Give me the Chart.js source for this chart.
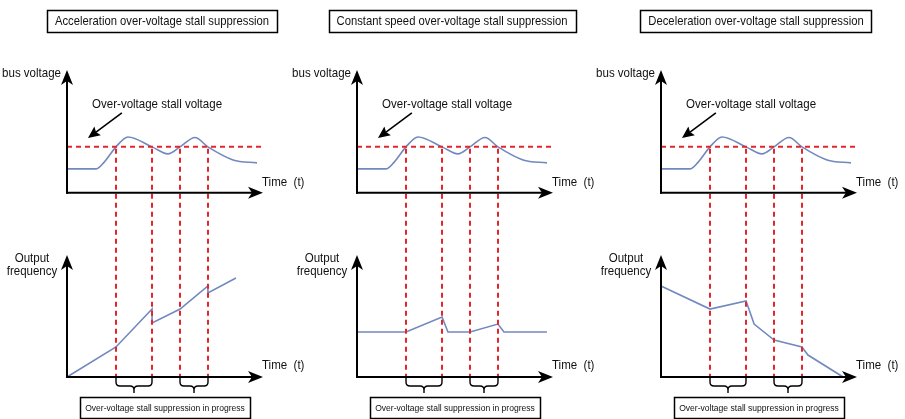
<!DOCTYPE html>
<html>
<head>
<meta charset="utf-8">
<script src="https://cdn.jsdelivr.net/npm/chart.js@4/dist/chart.umd.min.js"></script>
<style>
html,body{margin:0;padding:0;background:#fff;}
#wrap{position:relative;width:905px;height:419px;overflow:hidden;}
#wrap canvas{position:absolute;left:0;top:0;}
</style>
</head>
<body>
<div id="wrap">
<canvas id="c0" width="905" height="419"></canvas>
<canvas id="c1" width="905" height="419"></canvas>
<canvas id="c2" width="905" height="419"></canvas>
</div>
<script>
// ---------- data (arbitrary units) ----------
const panelTitles = [
  "Acceleration over-voltage stall suppression",
  "Constant speed over-voltage stall suppression",
  "Deceleration over-voltage stall suppression"
];
const boxLabel = "Over-voltage stall suppression in progress";
const stallLabel = "Over-voltage stall voltage";
const yLabelTop = "bus voltage";
const yLabelBottom = ["Output", "frequency"];
const xLabel = "Time\u00a0\u00a0(t)";

const busVoltageTime = [0, 1.5, 1.9, 2.5, 3.11, 4.34, 5.15, 5.77, 6.53, 7.19, 8.47, 9.69];
const busVoltage     = [1.95, 1.95, 2.5, 3.74, 4.55, 3.74, 3.17, 3.74, 4.5, 3.74, 2.68, 2.44];
const stallVoltage = 3.74;
const suppressionStart = [2.5, 5.77];
const suppressionEnd   = [4.34, 7.19];

const accelTime = [0, 2.5, 4.34, 4.34, 5.77, 7.19, 7.19, 8.62];
const accelFreq = [0, 2.46, 5.57, 4.43, 5.57, 7.46, 6.89, 8.11];
const constTime = [0, 2.5, 4.34, 4.64, 5.77, 7.19, 7.5, 9.69];
const constFreq = [3.69, 3.69, 4.92, 3.69, 3.69, 4.34, 3.69, 3.69];
const decelTime = [0, 2.5, 4.34, 4.75, 5.77, 7.19, 7.5, 9.29];
const decelFreq = [7.46, 5.57, 6.23, 4.34, 3.03, 2.46, 1.80, 0];

const freqTimes = [accelTime, constTime, decelTime];
const freqValues = [accelFreq, constFreq, decelFreq];

// ---------- layout / style ----------
const axisLeft = [67, 357, 661];
const plotWidth = 196;
const BLUE = '#7189bf';
const RED = '#e3262c';
const FONT = '"Liberation Sans", Arial, sans-serif';

function zip(xs, ys) { return xs.map((x, i) => ({x: x, y: ys[i]})); }

function text(ctx, s, x, y, size, align, squeeze) {
  ctx.font = size + 'px ' + FONT;
  ctx.textAlign = align;
  ctx.textBaseline = 'middle';
  ctx.fillStyle = '#111';
  const w = ctx.measureText(s).width * (squeeze || 0.92);
  ctx.fillText(s, x, y, w);
  return w;
}

function arrow(ctx, x1, y1, x2, y2, len, half, notch, lw) {
  const dx = x2 - x1, dy = y2 - y1, d = Math.hypot(dx, dy);
  const ux = dx / d, uy = dy / d, nx = -uy, ny = ux;
  ctx.lineWidth = lw;
  ctx.strokeStyle = '#000';
  ctx.fillStyle = '#000';
  ctx.setLineDash([]);
  ctx.beginPath();
  ctx.moveTo(x1, y1);
  ctx.lineTo(x2 - ux * (len - notch), y2 - uy * (len - notch));
  ctx.stroke();
  ctx.beginPath();
  ctx.moveTo(x2, y2);
  ctx.lineTo(x2 - ux * len + nx * half, y2 - uy * len + ny * half);
  ctx.lineTo(x2 - ux * (len - notch), y2 - uy * (len - notch));
  ctx.lineTo(x2 - ux * len - nx * half, y2 - uy * len - ny * half);
  ctx.closePath();
  ctx.fill();
}

function brace(ctx, xa, xb, y0) {
  const xm = (xa + xb) / 2, r = 4;
  ctx.strokeStyle = '#000';
  ctx.lineWidth = 1.4;
  ctx.setLineDash([]);
  ctx.beginPath();
  ctx.moveTo(xa, y0);
  ctx.lineTo(xa, y0 + 5);
  ctx.quadraticCurveTo(xa, y0 + 9, xa + r, y0 + 9);
  ctx.lineTo(xm - r, y0 + 9);
  ctx.quadraticCurveTo(xm, y0 + 9, xm, y0 + 13);
  ctx.lineTo(xm, y0 + 16);
  ctx.moveTo(xm, y0 + 13);
  ctx.quadraticCurveTo(xm, y0 + 9, xm + r, y0 + 9);
  ctx.lineTo(xb - r, y0 + 9);
  ctx.quadraticCurveTo(xb, y0 + 9, xb, y0 + 5);
  ctx.lineTo(xb, y0);
  ctx.stroke();
}

const diagramPlugin = {
  id: 'diagram',
  afterDraw(chart) {
    const col = chart.options.plugins.diagram.col;
    const {ctx} = chart;
    const {x, yV, yF} = chart.scales;
    const ax = x.getPixelForValue(0), tip = x.getPixelForValue(10);
    const v0 = yV.getPixelForValue(0), vTop = yV.getPixelForValue(10);
    const f0 = yF.getPixelForValue(0), fTop = yF.getPixelForValue(10);
    const th = yV.getPixelForValue(stallVoltage);
    ctx.save();

    // vertical dashed guide lines
    ctx.strokeStyle = RED;
    ctx.lineWidth = 2;
    ctx.setLineDash([5, 4]);
    suppressionStart.concat(suppressionEnd).forEach(t => {
      const px = Math.round(x.getPixelForValue(t));
      ctx.beginPath();
      ctx.moveTo(px, th + 2);
      ctx.lineTo(px, f0);
      ctx.stroke();
    });

    // axes
    arrow(ctx, ax, v0 + 1, ax, vTop, 15, 6, 4, 2);
    arrow(ctx, ax - 1, v0, tip, v0, 15, 6, 4, 2);
    arrow(ctx, ax, f0 + 1, ax, fTop, 15, 6, 4, 2);
    arrow(ctx, ax - 1, f0, tip, f0, 15, 6, 4, 2);

    // braces
    for (let i = 0; i < suppressionStart.length; i++) {
      brace(ctx, Math.round(x.getPixelForValue(suppressionStart[i])), Math.round(x.getPixelForValue(suppressionEnd[i])), f0);
    }

    // annotation arrow
    arrow(ctx, x.getPixelForValue(2.8), yV.getPixelForValue(6.5),
               x.getPixelForValue(1.07), yV.getPixelForValue(4.46), 12, 5.5, 2, 1.6);

    // texts
    text(ctx, stallLabel, x.getPixelForValue(1.28), yV.getPixelForValue(7.23), 12.8, 'left', 0.9);
    text(ctx, yLabelTop, ax - 6, vTop + 3, 12.8, 'right', 0.9);
    text(ctx, xLabel, tip - 1, v0 - 10, 12.8, 'left', 0.9);
    text(ctx, xLabel, tip - 1, f0 - 12, 12.8, 'left', 0.9);
    text(ctx, yLabelBottom[0], ax - 35, fTop + 3, 12.8, 'center', 0.9);
    text(ctx, yLabelBottom[1], ax - 35, fTop + 16, 12.8, 'center', 0.9);

    // title box
    const cx = ax + 95;
    const tw = text(ctx, panelTitles[col], cx, 21.5, 12.8, 'center', 0.88);
    ctx.strokeStyle = '#000';
    ctx.lineWidth = 1.5;
    ctx.setLineDash([]);
    ctx.strokeRect(Math.round(cx - tw / 2 - 8) + 0.5, 10.5, Math.round(tw + 16), 22);

    // bottom box
    const bx = ax + 98;
    text(ctx, boxLabel, bx, 408.5, 9, 'center', 0.95);
    ctx.strokeRect(Math.round(bx - 85) + 0.5, 397.5, 170, 21);
    ctx.restore();
  }
};

for (let c = 0; c < 3; c++) {
  const left = axisLeft[c];
  new Chart(document.getElementById('c' + c), {
    type: 'line',
    data: {
      datasets: [
        {
          label: 'Over-voltage stall voltage',
          data: [{x: 0, y: stallVoltage}, {x: 10.1, y: stallVoltage}],
          yAxisID: 'yV', borderColor: RED, borderWidth: 2, borderDash: [5, 4],
          pointRadius: 0, tension: 0, clip: false
        },
        {
          label: 'bus voltage',
          data: zip(busVoltageTime, busVoltage),
          yAxisID: 'yV', borderColor: BLUE, borderWidth: 1.6,
          pointRadius: 0, cubicInterpolationMode: 'monotone', clip: false
        },
        {
          label: 'Output frequency',
          data: zip(freqTimes[c], freqValues[c]),
          yAxisID: 'yF', borderColor: BLUE, borderWidth: 1.6,
          pointRadius: 0, tension: 0, clip: false
        }
      ]
    },
    options: {
      responsive: false,
      animation: false,
      events: [],
      layout: {padding: {left: left, right: 905 - left - plotWidth, top: 70, bottom: 42}},
      scales: {
        x: {type: 'linear', min: 0, max: 10, display: false},
        yV: {type: 'linear', min: -15, max: 10, display: false},
        yF: {type: 'linear', min: 0, max: 25.16, display: false}
      },
      plugins: {
        legend: {display: false},
        tooltip: {enabled: false},
        diagram: {col: c}
      }
    },
    plugins: [diagramPlugin]
  });
}
</script>
</body>
</html>
